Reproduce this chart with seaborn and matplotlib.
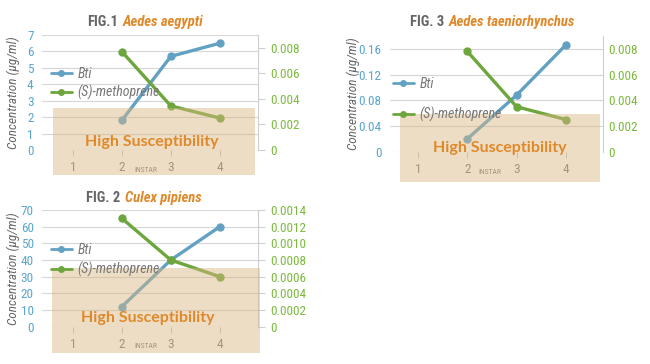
import matplotlib
matplotlib.use("Agg")
import matplotlib.pyplot as plt
import seaborn as sns
from matplotlib import font_manager
from matplotlib.patches import Rectangle
from matplotlib.lines import Line2D

sns.set_style("white")

# pick a narrow face (with bold + italic) if one is installed
fams = {}
for f in font_manager.fontManager.ttflist:
    if 'Narrow' in f.name or 'Condensed' in f.name:
        w = f.weight if isinstance(f.weight, int) else 400
        fams.setdefault(f.name, set()).add((w, f.style))
good = [n for n, s in fams.items()
        if any(w >= 600 for w, _ in s) and any(st != 'normal' for _, st in s)
        and any(380 <= w <= 500 for w, _ in s)]
pref = ['Liberation Sans Narrow', 'Roboto Condensed', 'Open Sans Condensed',
        'DejaVu Sans Condensed']
chosen = [n for n in pref if n in good] + sorted(good)
if chosen:
    BASE = [chosen[0], 'DejaVu Sans']
    SCALE = 1.0
else:
    BASE = ['Liberation Sans', 'DejaVu Sans']
    SCALE = 0.86
plt.rcParams['font.family'] = BASE

# data
instar = [2, 3, 4]
x_ticks = [1, 2, 3, 4]

fig1_bti = [1.8, 5.7, 6.5]
fig1_meth = [0.0077, 0.00345, 0.0025]
fig2_bti = [12, 40, 60]
fig2_meth = [0.0013, 0.0008, 0.0006]
fig3_bti = [0.02, 0.088, 0.166]
fig3_meth = [0.0078, 0.0035, 0.0025]

fig1_left_ticks = [0, 1, 2, 3, 4, 5, 6, 7]
fig1_right_ticks = [0, 0.002, 0.004, 0.006, 0.008]
fig1_right_labels = ['0', '0.002', '0.004', '0.006', '0.008']
fig2_left_ticks = [0, 10, 20, 30, 40, 50, 60, 70]
fig2_right_ticks = [0, 0.0002, 0.0004, 0.0006, 0.0008, 0.0010, 0.0012, 0.0014]
fig2_right_labels = ['0', '0.0002', '0.0004', '0.0006', '0.0008', '0.0010', '0.0012', '0.0014']
fig3_left_ticks = [0, 0.04, 0.08, 0.12, 0.16]
fig3_left_labels = ['0', '0.04', '0.08', '0.12', '0.16']
fig3_right_ticks = [0, 0.002, 0.004, 0.006, 0.008]
fig3_right_labels = ['0', '0.002', '0.004', '0.006', '0.008']

BLUE = '#62a1c3'
GREEN = '#6da63c'
BLUE_TXT = '#5aa6cf'
GREEN_TXT = '#7cbb3f'
GREY = '#666666'
ORANGE = '#e0892a'

W, H = 650, 364
fig = plt.figure(figsize=(6.5, 3.64), dpi=100)


def fx(px):
    return px / W


def fy(py):
    return 1 - py / H


def panel(box, xlim, bti, meth, lticks, llabels, lmax, rticks, rlabels, rmax,
          rtick_len, leg_xy, leg_space, title_xy, fig_no, species, ylab_x,
          shade, hs_xy, instar_xy):
    left, top, right, bottom = box
    ax = fig.add_axes([fx(left), fy(bottom), fx(right - left), (bottom - top) / H])
    ax2 = ax.twinx()

    sns.lineplot(x=instar, y=bti, ax=ax, color=BLUE, marker='o', markersize=6,
                 markeredgewidth=0, linewidth=2.4)
    sns.lineplot(x=instar, y=meth, ax=ax2, color=GREEN, marker='o', markersize=6,
                 markeredgewidth=0, linewidth=2.4)

    ax.set_xlim(*xlim)
    ax.set_ylim(0, lmax)
    ax2.set_ylim(0, rmax)
    ax.set_yticks(lticks)
    ax.set_yticklabels(llabels)
    ax2.set_yticks(rticks)
    ax2.set_yticklabels(rlabels)
    ax.set_xticks(x_ticks)
    ax.set_xticklabels([str(t) for t in x_ticks])

    ax.grid(axis='y', color='#d6d6d6', linewidth=0.8)
    ax.grid(axis='x', visible=False)
    for a in (ax, ax2):
        for s in a.spines.values():
            s.set_visible(False)
    ax2.spines['right'].set_visible(True)
    ax2.spines['right'].set_color('#cfcfcf')
    ax2.spines['right'].set_linewidth(0.8)

    fs = 9.5 * SCALE
    ax.tick_params(axis='y', length=0, pad=6, labelsize=fs, labelcolor=BLUE_TXT)
    ax.tick_params(axis='x', length=4, width=0.6, color='#bbbbbb', pad=4,
                   labelsize=fs, labelcolor='#777777', bottom=True)
    ax2.tick_params(axis='y', length=rtick_len, width=0.8, color='#cfcfcf', pad=4,
                    labelsize=fs, labelcolor=GREEN_TXT)
    ax.set_xlabel('')
    ax.set_ylabel('')
    ax2.set_ylabel('')

    handles = [Line2D([], [], color=BLUE, marker='o', markersize=5, markeredgewidth=0, linewidth=2),
               Line2D([], [], color=GREEN, marker='o', markersize=5, markeredgewidth=0, linewidth=2)]
    fig.legend(handles, ['Bti', '(S)-methoprene'], loc='center left',
               bbox_to_anchor=(fx(leg_xy[0]), fy(leg_xy[1])), frameon=False,
               borderpad=0, borderaxespad=0, handlelength=1.5, handletextpad=0.4,
               labelspacing=leg_space, prop={'style': 'italic', 'size': 10 * SCALE},
               labelcolor='#777777')

    fig.text(fx(title_xy[0]), fy(title_xy[1]), fig_no, ha='right', va='center',
             color=GREY, fontsize=10.5 * SCALE, fontweight='bold')
    fig.text(fx(title_xy[0] + 5), fy(title_xy[1]), species, ha='left', va='center',
             color=ORANGE, fontsize=10.5 * SCALE, fontweight='bold', style='italic')

    fig.text(fx(ylab_x), fy((top + bottom) / 2), 'Concentration (µg/ml)',
             rotation=90, ha='center', va='center', color=GREY, fontsize=9.5 * SCALE,
             style='italic')

    fig.text(fx(instar_xy[0]), fy(instar_xy[1]), 'INSTAR', ha='center',
             va='center', color='#777777', fontsize=5.5)

    sx0, sy0, sx1, sy1 = shade
    fig.add_artist(Rectangle((fx(sx0), fy(sy1)), fx(sx1 - sx0), (sy1 - sy0) / H,
                             transform=fig.transFigure, facecolor='#d9b784',
                             edgecolor='none', alpha=0.47, zorder=5))
    fig.text(fx(hs_xy[0]), fy(hs_xy[1]), 'High Susceptibility', ha='center',
             va='center', color=ORANGE, fontsize=11.5, fontweight='bold',
             family=['Lato', 'DejaVu Sans'], zorder=6)


panel((42, 35, 258, 150), (0.37, 4.78), fig1_bti, fig1_meth,
      fig1_left_ticks, [str(t) for t in fig1_left_ticks], 7,
      fig1_right_ticks, fig1_right_labels, 0.009, 5,
      (51, 83.5), 0.3, (118, 22), 'FIG.1', 'Aedes aegypti', 13,
      (53, 108, 255, 175), (152, 142), (146, 170))

panel((42, 210, 258, 326.7), (0.37, 4.78), fig2_bti, fig2_meth,
      fig2_left_ticks, [str(t) for t in fig2_left_ticks], 70,
      fig2_right_ticks, fig2_right_labels, 0.0014, 5,
      (51, 260), 0.4, (120, 198), 'FIG. 2', 'Culex pipiens', 13,
      (52, 268, 260, 353), (148, 318), (146, 346))

panel((390, 36, 603, 151.7), (0.43, 4.755), fig3_bti, fig3_meth,
      fig3_left_ticks, fig3_left_labels, 0.18,
      fig3_right_ticks, fig3_right_labels, 0.009, 0,
      (393, 99.5), 1.2, (444, 22), 'FIG. 3', 'Aedes taeniorhynchus', 353,
      (400, 114, 600, 182), (500, 148), (490, 172))

fig.savefig('out.png', dpi=100)
